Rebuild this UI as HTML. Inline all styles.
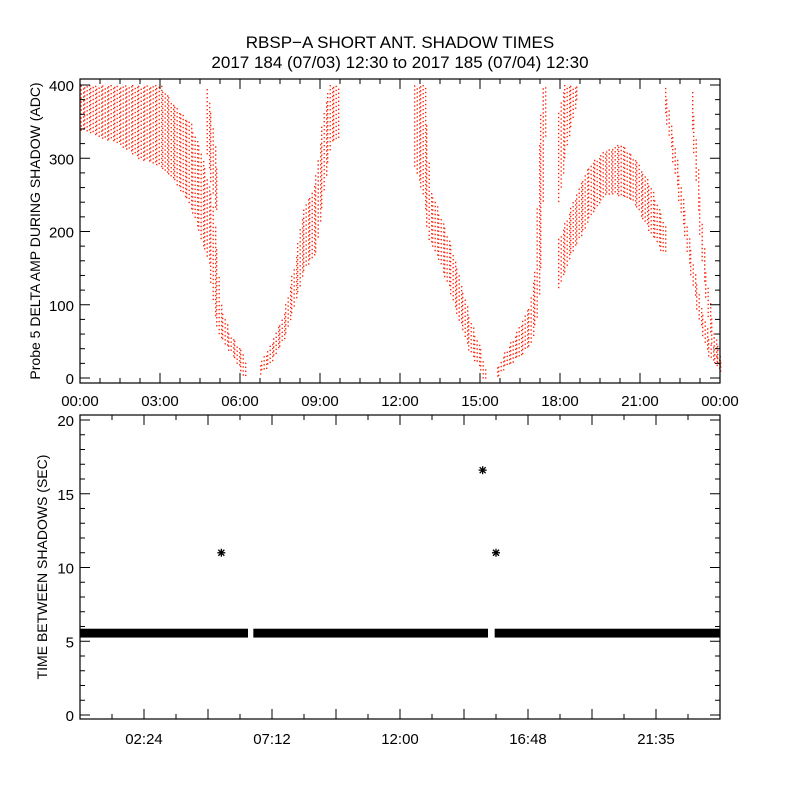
<!DOCTYPE html>
<html><head><meta charset="utf-8"><style>
html,body{margin:0;padding:0;background:#fff;}
svg{display:block;font-family:"Liberation Sans",sans-serif;}
</style></head><body>
<svg id="c" width="800" height="800" viewBox="0 0 800 800">
<rect width="800" height="800" fill="#fff"/>
<text x="400" y="48" font-size="17" text-anchor="middle">RBSP−A SHORT ANT. SHADOW TIMES</text>
<text x="400" y="68" font-size="17" text-anchor="middle">2017 184 (07/03) 12:30 to 2017 185 (07/04) 12:30</text>
<text transform="translate(40,231) rotate(-90)" font-size="14" text-anchor="middle">Probe 5 DELTA AMP DURING SHADOW (ADC)</text>
<text transform="translate(47,567) rotate(-90)" font-size="14" text-anchor="middle">TIME BETWEEN SHADOWS (SEC)</text>
<g id="topPlot"></g>
<g id="botPlot"></g>
</svg>
<script>
// ---- data (top panel): bands of scatter [hours, low, high] ----
const branchA = [[0,340,400],[0.75,330,400],[1.5,320,400],[2.25,300,400],[3,290,400],[3.56,270,370],[4.1,240,350],[4.5,200,310],[4.9,150,250],[5.06,90,200],[5.25,60,100],[5.6,40,60],[6,15,40],[6.2,0,20]];
const branchB = [[4.7,330,400],[4.9,280,360],[5.1,230,290]];
const branchC = [[6.7,5,15],[7.1,20,40],[7.7,60,90],[8.1,110,160],[8.4,150,230],[8.8,170,260],[9.0,220,310],[9.2,280,370],[9.4,320,400],[9.7,330,400]];
const branchD = [[12.5,300,400],[12.9,250,400],[13.1,190,260],[13.5,160,220],[13.9,120,180],[14.25,80,130],[14.6,40,80],[15.0,15,40],[15.15,0,15]];
const branchE = [[15.6,0,10],[15.9,15,30],[16.5,30,70],[16.9,50,100],[17.1,80,150],[17.25,150,320],[17.4,330,400]];
const branchF = [[17.9,230,350],[18.2,310,400],[18.6,380,400]];
const branchG = [[17.9,120,180],[18.4,170,230],[19.1,220,290],[19.7,250,310],[20.25,250,320],[20.8,240,300],[21.4,200,260],[21.9,170,210]];
const branchH1 = [[21.9,380,400],[22.3,290,310],[22.9,150,170],[23.25,80,100],[23.6,30,50],[24,10,22]];
const branchH2 = [[22.9,380,400],[23.1,290,310],[23.25,210,230],[23.4,140,160],[23.7,50,70],[24,18,30]];
const topTicksX = ["00:00","03:00","06:00","09:00","12:00","15:00","18:00","21:00","00:00"];
const topTicksY = [0,100,200,300,400];
// ---- data (bottom panel) ----
const bandSegments = [[0,6.3],[6.5,15.3],[15.55,24]];
const bandLow = [5.25,5.25,5.25];
const bandHigh = [5.85,5.85,5.85];
const starTimes = [5.3,15.1,15.6];
const starValues = [11.0,16.6,11.0];
const botTickLabels = ["02:24","07:12","12:00","16:48","21:35"];
const botTickHours = [2.4,7.2,12,16.8,21.6];
const botTicksY = [0,5,10,15,20];

const NS="http://www.w3.org/2000/svg";
function mk(tag,attrs,parent){const e=document.createElementNS(NS,tag);for(const k in attrs)e.setAttribute(k,attrs[k]);parent.appendChild(e);return e;}
const L=80,R=720;
const xS=h=>L+(h/24)*(R-L);
const tT=79,tB=383;
const yT=v=>378-v*0.7325;
const bT=415,bB=719;
const yB=v=>715-v*14.75;

const topG=document.getElementById('topPlot'), botG=document.getElementById('botPlot');

function interp(br,h){for(let i=0;i<br.length-1;i++){const a=br[i],b=br[i+1];if(h>=a[0]&&h<=b[0]){const f=(h-a[0])/(b[0]-a[0]||1);return [a[1]+f*(b[1]-a[1]),a[2]+f*(b[2]-a[2])];}}return null;}
const branches=[branchA,branchB,branchC,branchD,branchE,branchF,branchG,branchH1,branchH2];
const names=['scatter-branch-a','scatter-branch-b','scatter-branch-c','scatter-branch-d','scatter-branch-e','scatter-branch-f','scatter-branch-g','scatter-branch-h1','scatter-branch-h2'];
branches.forEach((br,bi)=>{
  let d='';
  const x0=Math.ceil(xS(br[0][0])),x1=Math.floor(xS(br[br.length-1][0]));
  for(let px=x0;px<=x1;px+=2){
    const h=(px-L)/(R-L)*24;const r=interp(br,h);if(!r)continue;
    const r2=interp(br,Math.min((px+2-L)/(R-L)*24,br[br.length-1][0]))||r;
    const lo=Math.min(r[0],r2[0]),hi=Math.max(r[1],r2[1]);
    const yh=Math.max(tT+1,yT(hi)),yl=yT(lo);
    const off=((px*37+bi*13)%11)/11*4;
    const dx=((px*53)%3)*0.5;
    for(let py=yh+off;py<=yl;py+=4){
      d+='M'+(px+dx)+' '+py.toFixed(1)+'h1.4v1.4h-1.4z';
    }
  }
  const p=mk('path',{d:d,fill:'#ff2a10'},topG);
  
  
});

function axes(g,yT0,yB0,yFn,yTicks,minorStep,yMax,pref){
  const f=mk('rect',{x:L,y:yT0,width:R-L,height:yB0-yT0,fill:'none',stroke:'#000','stroke-width':1.2},g);
  
  
  for(let v=0;v<=yMax+1e-6;v+=minorStep){
    const y=yFn(v);const maj=yTicks.some(t=>Math.abs(t-v)<1e-6);const len=maj?10:5;
    mk('line',{x1:L,y1:y,x2:L+len,y2:y,stroke:'#000'},g);
    mk('line',{x1:R,y1:y,x2:R-len,y2:y,stroke:'#000'},g);
  }
  yTicks.forEach(v=>{const t=mk('text',{x:L-6,y:yFn(v)+6,'font-size':15,'text-anchor':'end'},g);t.textContent=v;
    
    });
}
axes(topG,tT,tB,yT,topTicksY,20,400,'top');
axes(botG,bT,bB,yB,botTicksY,1,20,'bottom');
for(let h=0;h<=24;h+=0.75){const x=xS(h);const maj=Math.abs(h%3)<1e-6;const len=maj?10:5;
  mk('line',{x1:x,y1:tB,x2:x,y2:tB-len,stroke:'#000'},topG);mk('line',{x1:x,y1:tT,x2:x,y2:tT+len,stroke:'#000'},topG);}
topTicksX.forEach((s,i)=>{const t=mk('text',{x:xS(i*3),y:406,'font-size':15,'text-anchor':'middle'},topG);t.textContent=s;
  
  });
for(let h=1.2;h<24;h+=1.2){const x=xS(h);const maj=Math.abs((h/2.4)-Math.round(h/2.4))<1e-6;const len=maj?10:5;
  mk('line',{x1:x,y1:bB,x2:x,y2:bB-len,stroke:'#000'},botG);mk('line',{x1:x,y1:bT,x2:x,y2:bT+len,stroke:'#000'},botG);}
botTickLabels.forEach((s,i)=>{const t=mk('text',{x:xS(botTickHours[i]),y:744,'font-size':15,'text-anchor':'middle'},botG);t.textContent=s;
  
  });
bandSegments.forEach((s,i)=>{const r=mk('rect',{x:xS(s[0]),y:yB(bandHigh[i]),width:xS(s[1])-xS(s[0]),height:yB(bandLow[i])-yB(bandHigh[i]),fill:'#000'},botG);
  
  });
starTimes.forEach((h,i)=>{const x=xS(h),y=yB(starValues[i]);const g=mk('g',{stroke:'#000','stroke-width':1.3},botG);
  
  
  mk('line',{x1:x-4,y1:y,x2:x+4,y2:y},g);mk('line',{x1:x,y1:y-4,x2:x,y2:y+4},g);
  mk('line',{x1:x-3,y1:y-3,x2:x+3,y2:y+3},g);mk('line',{x1:x-3,y1:y+3,x2:x+3,y2:y-3},g);});
</script>
</body></html>
